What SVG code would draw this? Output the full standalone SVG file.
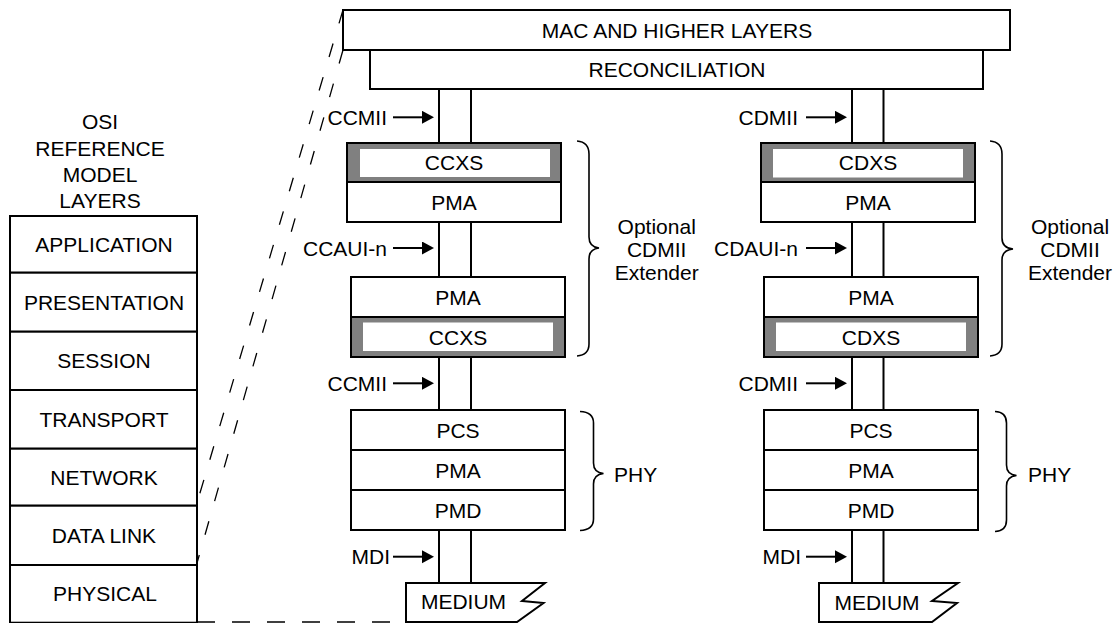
<svg xmlns="http://www.w3.org/2000/svg" width="1116" height="623" viewBox="0 0 1116 623">
<defs>
<style>
text{font-family:"Liberation Sans",Arial,Helvetica,sans-serif;font-size:21px;fill:#000}
.c{text-anchor:middle}
.e{text-anchor:end}
.box{fill:#fff;stroke:#000;stroke-width:2}
.gray{fill:#808080;stroke:#000;stroke-width:2}
.inner{fill:#fff;stroke:none}
.ch{stroke:#000;stroke-width:2;fill:none}
.arr{stroke:#000;stroke-width:2;fill:none;marker-end:url(#ah)}
.dash{stroke:#000;stroke-width:1.3;fill:none;stroke-dasharray:14 21}
.dashh{stroke:#000;stroke-width:1.6;fill:none;stroke-dasharray:18 17}
.brace{stroke:#000;stroke-width:1.6;fill:none}
</style>
<marker id="ah" markerUnits="userSpaceOnUse" markerWidth="14" markerHeight="14" refX="2" refY="6.5" orient="auto">
<path d="M0,0 L12,6.5 L0,13 Z" fill="#000"/>
</marker>
</defs>

<g id="osi-title">
<text class="c" x="100" y="129.3">OSI</text>
<text class="c" x="100" y="155.7">REFERENCE</text>
<text class="c" x="100" y="181.7">MODEL</text>
<text class="c" x="100" y="207.7">LAYERS</text>
</g>

<g id="osi-stack">
<g id="osi-application"><rect class="box" x="10" y="216" width="187" height="56.7"/><text class="c" x="104" y="251.5">APPLICATION</text></g>
<g id="osi-presentation"><rect class="box" x="10" y="272.7" width="187" height="59"/><text class="c" x="104" y="309.5">PRESENTATION</text></g>
<g id="osi-session"><rect class="box" x="10" y="331.7" width="187" height="58.3"/><text class="c" x="104" y="368">SESSION</text></g>
<g id="osi-transport"><rect class="box" x="10" y="390" width="187" height="58.7"/><text class="c" x="104" y="426.5">TRANSPORT</text></g>
<g id="osi-network"><rect class="box" x="10" y="448.7" width="187" height="57"/><text class="c" x="104" y="484.5">NETWORK</text></g>
<g id="osi-datalink"><rect class="box" x="10" y="505.7" width="187" height="59.3"/><text class="c" x="104" y="542.5">DATA LINK</text></g>
<g id="osi-physical"><rect class="box" x="10" y="565" width="187" height="57.7"/><text class="c" x="105" y="600.5">PHYSICAL</text></g>
</g>

<g id="mac">
<rect class="box" x="343" y="10" width="667" height="40"/>
<text class="c" x="677" y="38">MAC AND HIGHER LAYERS</text>
</g>
<g id="reconciliation">
<rect class="box" x="370" y="50" width="613" height="39"/>
<text class="c" x="677" y="77">RECONCILIATION</text>
</g>

<!-- Left column -->
<g id="l-ext-top">
<rect class="gray" x="347" y="143" width="214" height="39"/>
<rect class="inner" x="360" y="149" width="190" height="28"/>
<text class="c" x="454" y="170">CCXS</text>
<rect class="box" x="347" y="182" width="214" height="40"/>
<text class="c" x="454" y="210">PMA</text>
</g>
<g id="l-ext-bottom">
<rect class="box" x="351" y="277" width="214" height="40"/>
<text class="c" x="458" y="304.5">PMA</text>
<rect class="gray" x="351" y="317" width="214" height="40"/>
<rect class="inner" x="363" y="322.5" width="190" height="28.5"/>
<text class="c" x="458" y="344.5">CCXS</text>
</g>
<g id="l-phy">
<rect class="box" x="351" y="410" width="214" height="40"/>
<text class="c" x="458" y="437.5">PCS</text>
<rect class="box" x="351" y="450" width="214" height="40"/>
<text class="c" x="458" y="477.5">PMA</text>
<rect class="box" x="351" y="490" width="214" height="40"/>
<text class="c" x="458" y="517.5">PMD</text>
</g>
<g id="l-medium">
<path class="box" d="M406,622 L406,583 L545,583 L522,601 L543.5,603 L517,622 Z"/>
<text class="c" x="463.5" y="609">MEDIUM</text>
</g>

<!-- Right column -->
<g id="r-ext-top">
<rect class="gray" x="761" y="143" width="214" height="39"/>
<rect class="inner" x="773" y="149" width="190" height="28.5"/>
<text class="c" x="868" y="170">CDXS</text>
<rect class="box" x="761" y="182" width="214" height="40"/>
<text class="c" x="868" y="210">PMA</text>
</g>
<g id="r-ext-bottom">
<rect class="box" x="764" y="277" width="214" height="40"/>
<text class="c" x="871" y="304.5">PMA</text>
<rect class="gray" x="764" y="317" width="214" height="40"/>
<rect class="inner" x="776" y="322.5" width="190" height="28.5"/>
<text class="c" x="871" y="344.5">CDXS</text>
</g>
<g id="r-phy">
<rect class="box" x="764" y="410" width="214" height="40"/>
<text class="c" x="871" y="437.5">PCS</text>
<rect class="box" x="764" y="450" width="214" height="40"/>
<text class="c" x="871" y="477.5">PMA</text>
<rect class="box" x="764" y="490" width="214" height="40"/>
<text class="c" x="871" y="517.5">PMD</text>
</g>
<g id="r-medium">
<path class="box" d="M819,622 L819,583 L958,583 L932,601 L957,603 L932,622 Z"/>
<text class="c" x="877" y="609.5">MEDIUM</text>
</g>

<g id="connectors">
<path class="ch" d="M439,89 V143 M471,89 V143 M439,222 V277 M471,222 V277 M439,357 V410 M471,357 V410 M439,530 V583 M471,530 V583"/>
<path class="ch" d="M852,89 V143 M883.5,89 V143 M852,222 V277 M883.5,222 V277 M852,357 V410 M883.5,357 V410 M852,530 V583 M883.5,530 V583"/>
<line class="arr" x1="393" y1="117.3" x2="424" y2="117.3"/>
<line class="arr" x1="393" y1="248" x2="424" y2="248"/>
<line class="arr" x1="393" y1="383.3" x2="424" y2="383.3"/>
<line class="arr" x1="393" y1="556.7" x2="424" y2="556.7"/>
<line class="arr" x1="806" y1="117.3" x2="837" y2="117.3"/>
<line class="arr" x1="806" y1="248" x2="837" y2="248"/>
<line class="arr" x1="806" y1="383.3" x2="837" y2="383.3"/>
<line class="arr" x1="806" y1="556.7" x2="837" y2="556.7"/>
<line class="dash" x1="343" y1="10" x2="197" y2="503"/>
<line class="dash" x1="343" y1="50" x2="197" y2="563"/>
<line class="dashh" x1="197" y1="622" x2="406" y2="622"/>
</g>

<g id="labels">
<text class="e" x="387" y="124.8">CCMII</text>
<text class="e" x="387" y="255.5">CCAUI-n</text>
<text class="e" x="387" y="390.8">CCMII</text>
<text class="e" x="390" y="564.2">MDI</text>
<text class="e" x="798" y="124.8">CDMII</text>
<text class="e" x="798" y="255.5">CDAUI-n</text>
<text class="e" x="798" y="390.8">CDMII</text>
<text class="e" x="801" y="564.2">MDI</text>
</g>

<g id="braces">
<path class="brace" d="M577,141 Q589,142 589,154 L589,237 Q589,247 599,248 Q589,249 589,259 L589,344 Q589,355 577,356"/>
<path class="brace" d="M990,141 Q1002,142 1002,154 L1002,238 Q1002,248 1013,249 Q1002,250 1002,260 L1002,344 Q1002,355 990,356"/>
<path class="brace" d="M580,411.5 Q593.5,412 593.5,423 L593.5,463 Q593.5,472.5 603.5,473.5 Q593.5,474.5 593.5,484 L593.5,519 Q593.5,530 580,530.5"/>
<path class="brace" d="M995,411.5 Q1006.5,412 1006.5,423 L1006.5,465 Q1006.5,474.5 1016.5,475.5 Q1006.5,476.5 1006.5,486 L1006.5,520 Q1006.5,531 995,531.5"/>
</g>

<g id="brace-labels">
<text class="c" x="656.7" y="233.5">Optional</text>
<text class="c" x="656.7" y="256.5">CDMII</text>
<text class="c" x="656.7" y="280">Extender</text>
<text class="c" x="1070" y="233.5">Optional</text>
<text class="c" x="1070" y="256.5">CDMII</text>
<text class="c" x="1070" y="280">Extender</text>
<text x="614" y="481.7">PHY</text>
<text x="1028" y="481.7">PHY</text>
</g>
</svg>
